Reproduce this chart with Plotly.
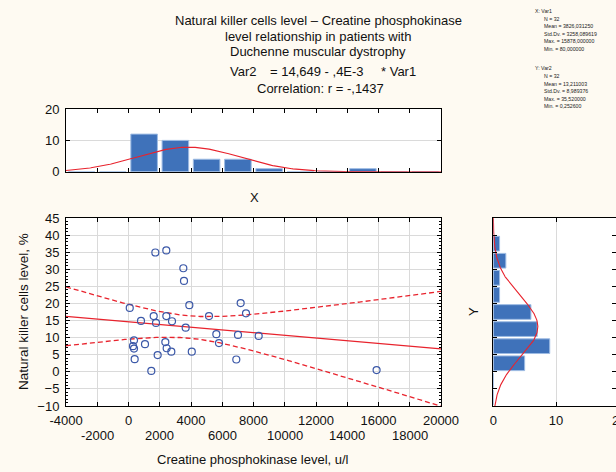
import numpy as np
import plotly.graph_objects as go

# ---------------- data ----------------
CPK = [80, 800, 1613, 1717, 1760, 352, 288, 352, 395, 1056, 1459, 1867,
       2420, 3509, 3552, 3893, 2421, 2784, 3659, 5152, 7179, 7520, 5621,
       5792, 7008, 8331, 2357, 2443, 2741, 4050, 6899, 15878]
NK = [18.7, 14.9, 16.3, 34.9, 14.3, 9.2, 7.5, 6.8, 3.7, 8.1, 0.2526, 4.9,
      35.52, 30.3, 26.6, 19.5, 16.3, 14.8, 12.9, 16.3, 20.1, 17.1, 11.0,
      8.4, 10.8, 10.5, 8.7, 6.9, 5.9, 5.9, 3.6, 0.5]

X_BIN_EDGES = [-4000, -2000, 0, 2000, 4000, 6000, 8000, 10000, 12000, 14000, 16000, 18000, 20000]
X_COUNTS = [0, 0, 12, 10, 4, 4, 1, 0, 0, 1, 0, 0]
Y_BIN_EDGES = [-10, -5, 0, 5, 10, 15, 20, 25, 30, 35, 40, 45]
Y_COUNTS = [0, 0, 5, 9, 7, 6, 1, 1, 2, 1, 0]

N = 32
X_MEAN, X_SD = 3826.031250, 3258.089619
Y_MEAN, Y_SD = 13.211003, 8.989376
R = -0.1437
INTERCEPT, SLOPE = 14.649, -0.000396
T_CRIT = 2.042

X_TICKS_ROW1 = [-4000, 0, 4000, 8000, 12000, 16000, 20000]
X_TICKS_ROW2 = [-2000, 2000, 6000, 10000, 14000, 18000]
Y_TICKS = [-10, -5, 0, 5, 10, 15, 20, 25, 30, 35, 40, 45]

TITLE_LINES = ["Natural killer cells level – Creatine phosphokinase",
               "level relationship in patients with",
               "Duchenne muscular dystrophy"]
EQ_PARTS = ["Var2", "= 14,649 - ,4E-3", "* Var1"]
CORR_TEXT = "Correlation: r = -,1437"
X_STATS = ["X: Var1", "N = 32", "Mean = 3826,031250", "Std.Dv. = 3258,089619",
           "Max. = 15878,000000", "Min. = 80,000000"]
Y_STATS = ["Y: Var2", "N = 32", "Mean = 13,211003", "Std.Dv. = 8,989376",
           "Max. = 35,520000", "Min. = 0,252600"]

# ---------------- styling ----------------
W, H = 616, 472
BG = "#FEFAF2"
BLUE = "#3F72BA"
MARK = "#3B58A8"
RED = "#E8232D"
GRID = "#DADADA"
FONT = "Liberation Sans, Arial, sans-serif"


def px(x):
    return x / W


def py(y):
    return 1 - y / H


fig = go.Figure()

# regression + confidence bands
xs = np.linspace(-4000, 20000, 300)
yfit = INTERCEPT + SLOPE * xs
s_res = Y_SD * np.sqrt((1 - R ** 2) * (N - 1) / (N - 2))
half = T_CRIT * s_res * np.sqrt(1.0 / N + (xs - X_MEAN) ** 2 / ((N - 1) * X_SD ** 2))

fig.add_trace(go.Scatter(x=xs, y=yfit + half, mode="lines",
                         line=dict(color=RED, width=1.3, dash="5px,3px"), xaxis="x", yaxis="y"))
fig.add_trace(go.Scatter(x=xs, y=yfit - half, mode="lines",
                         line=dict(color=RED, width=1.3, dash="5px,3px"), xaxis="x", yaxis="y"))
fig.add_trace(go.Scatter(x=xs, y=yfit, mode="lines",
                         line=dict(color=RED, width=1.2), xaxis="x", yaxis="y"))
fig.add_trace(go.Scatter(x=CPK, y=NK, mode="markers",
                         marker=dict(symbol="circle-open", size=7, color=MARK,
                                     line=dict(width=1.2, color=MARK)),
                         xaxis="x", yaxis="y"))

# top histogram
xc = [(a + b) / 2 for a, b in zip(X_BIN_EDGES[:-1], X_BIN_EDGES[1:])]
fig.add_trace(go.Bar(x=xc, y=X_COUNTS, width=[1700] * len(xc),
                     marker=dict(color=BLUE, line=dict(color="#9DBBE3", width=1)),
                     xaxis="x2", yaxis="y2"))
xn = np.linspace(-4000, 20000, 300)
dens_x = N * 2000 * np.exp(-0.5 * ((xn - X_MEAN) / X_SD) ** 2) / (X_SD * np.sqrt(2 * np.pi))
fig.add_trace(go.Scatter(x=xn, y=dens_x, mode="lines", line=dict(color=RED, width=1.1),
                         xaxis="x2", yaxis="y2"))

# right histogram
yc = [(a + b) / 2 for a, b in zip(Y_BIN_EDGES[:-1], Y_BIN_EDGES[1:])]
fig.add_trace(go.Bar(y=yc, x=Y_COUNTS, orientation="h", width=[4.3] * len(yc),
                     marker=dict(color=BLUE, line=dict(color="#9DBBE3", width=1)),
                     xaxis="x3", yaxis="y3"))
yn = np.linspace(-10, 45, 300)
dens_y = N * 5 * np.exp(-0.5 * ((yn - Y_MEAN) / Y_SD) ** 2) / (Y_SD * np.sqrt(2 * np.pi))
fig.add_trace(go.Scatter(x=dens_y, y=yn, mode="lines", line=dict(color=RED, width=1.1),
                         xaxis="x3", yaxis="y3"))

tickfont = dict(family=FONT, size=13, color="#111")
common = dict(showline=True, linecolor="black", linewidth=1, mirror="ticks",
              ticks="inside", tickcolor="black", ticklen=4, zeroline=False,
              tickfont=tickfont, automargin=False)

main_x = [px(66), px(441)]
main_y = [py(406), py(218)]

fig.update_layout(
    width=W, height=H,
    margin=dict(l=0, r=0, t=0, b=0),
    paper_bgcolor=BG, plot_bgcolor="white",
    showlegend=False,
    font=dict(family=FONT, color="#111"),
    xaxis=dict(domain=main_x, range=[-4000, 20000], anchor="y",
               tickvals=X_TICKS_ROW1 + X_TICKS_ROW2,
               ticktext=[str(v) for v in X_TICKS_ROW1] + [""] * len(X_TICKS_ROW2),
               showgrid=True, gridcolor=GRID, gridwidth=1, ticklabelstandoff=2, **common),
    yaxis=dict(domain=main_y, range=[-10, 45], anchor="x",
               tickvals=Y_TICKS, showgrid=True, gridcolor=GRID, gridwidth=1,
               minor=dict(dtick=1, ticks="inside", ticklen=2, tickcolor="black", showgrid=False),
               ticklabelstandoff=3, **common),
    xaxis2=dict(domain=main_x, range=[-4000, 20000], anchor="y2",
                tickvals=X_BIN_EDGES, showticklabels=False, showgrid=False, **common),
    yaxis2=dict(domain=[py(171.8), py(109)], range=[0, 20], anchor="x2",
                tickvals=[0, 10, 20], showgrid=True, gridcolor=GRID,
                ticklabelstandoff=3, **common),
    xaxis3=dict(domain=[px(493.3), 1.0], range=[0, 20 * (616 - 493.3) / (618.7 - 493.3)],
                anchor="y3", tickvals=[0, 10], showgrid=True, gridcolor=GRID,
                ticklabelstandoff=2, **common),
    yaxis3=dict(domain=main_y, range=[-10, 45], anchor="x3",
                tickvals=Y_TICKS, showticklabels=False, showgrid=False, **common),
)

ann = []
# second row of x tick labels
for v in X_TICKS_ROW2:
    ann.append(dict(x=v, xref="x", y=py(435), yref="paper", text=str(v), showarrow=False,
                    xanchor="center", yanchor="middle", font=tickfont))
# partial "20" at the right edge of the right histogram (cut by the frame, as in the original)
ann.append(dict(x=px(618.7), xref="paper", y=py(420.7), yref="paper", text="20",
                showarrow=False, xanchor="center", yanchor="middle", font=tickfont))

# titles
for txt, yy in zip(TITLE_LINES, [20, 36.7, 51.7]):
    ann.append(dict(x=px(318), y=py(yy), xref="paper", yref="paper", text=txt, showarrow=False,
                    xanchor="center", yanchor="middle", font=dict(family=FONT, size=13, color="#111")))
for txt, xx in zip(EQ_PARTS, [228.3, 268.3, 379.3]):
    ann.append(dict(x=px(xx), y=py(71.3), xref="paper", yref="paper", text=txt, showarrow=False,
                    xanchor="left", yanchor="middle", font=dict(family=FONT, size=13, color="#111")))
ann.append(dict(x=px(320.7), y=py(88.7), xref="paper", yref="paper", text=CORR_TEXT, showarrow=False,
                xanchor="center", yanchor="middle", font=dict(family=FONT, size=13, color="#111")))

# stats blocks
for block, y0 in [(X_STATS, 11), (Y_STATS, 68.3)]:
    for i, txt in enumerate(block):
        xx = 533.3 if i == 0 else 541.7
        ann.append(dict(x=px(xx), y=py(y0 + i * 7.6), xref="paper", yref="paper", text=txt,
                        showarrow=False, xanchor="left", yanchor="middle",
                        font=dict(family=FONT, size=5.2, color="#222")))

# axis titles
ann.append(dict(x=px(253), y=py(459), xref="paper", yref="paper", text="Creatine phosphokinase level, u/l",
                showarrow=False, xanchor="center", yanchor="middle",
                font=dict(family=FONT, size=13, color="#111")))
ann.append(dict(x=px(23), y=py(312), xref="paper", yref="paper", text="Natural killer cells level, %",
                showarrow=False, xanchor="center", yanchor="middle", textangle=-90,
                font=dict(family=FONT, size=13.5, color="#111")))
ann.append(dict(x=px(254), y=py(197), xref="paper", yref="paper", text="X",
                showarrow=False, xanchor="center", yanchor="middle",
                font=dict(family=FONT, size=13, color="#111")))
ann.append(dict(x=px(473), y=py(312), xref="paper", yref="paper", text="Y",
                showarrow=False, xanchor="center", yanchor="middle", textangle=-90,
                font=dict(family=FONT, size=13, color="#111")))

fig.update_layout(annotations=ann)
fig.write_html("out.html")
